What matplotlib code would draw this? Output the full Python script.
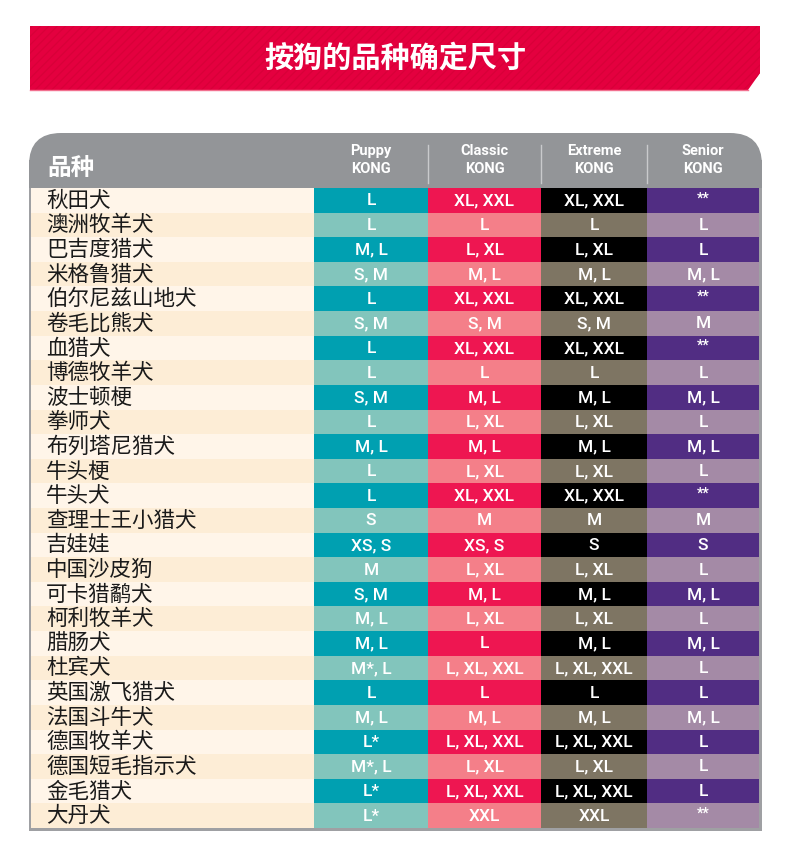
#!/usr/bin/env python3
"""
按狗的品种确定尺寸 - KONG 尺寸表
"""

import matplotlib
matplotlib.use('Agg')
import matplotlib.pyplot as plt
from matplotlib.patches import Polygon, Rectangle, FancyBboxPatch

plt.rcParams['font.family'] = ['Noto Sans CJK SC', 'DejaVu Sans']
plt.rcParams['hatch.linewidth'] = 0.9

# Datos de la tabla
title = '按狗的品种确定尺寸'
name_header = '品种'
col_headers = ['Puppy\nKONG', 'Classic\nKONG', 'Extreme\nKONG', 'Senior\nKONG']

breeds = ['秋田犬', '澳洲牧羊犬', '巴吉度猎犬', '米格鲁猎犬', '伯尔尼兹山地犬',
          '卷毛比熊犬', '血猎犬', '博德牧羊犬', '波士顿梗', '拳师犬',
          '布列塔尼猎犬', '牛头梗', '牛头犬', '查理士王小猎犬', '吉娃娃',
          '中国沙皮狗', '可卡猎鹬犬', '柯利牧羊犬', '腊肠犬', '杜宾犬',
          '英国激飞猎犬', '法国斗牛犬', '德国牧羊犬', '德国短毛指示犬', '金毛猎犬',
          '大丹犬']

puppy = ['L', 'L', 'M, L', 'S, M', 'L', 'S, M', 'L', 'L', 'S, M', 'L',
         'M, L', 'L', 'L', 'S', 'XS, S', 'M', 'S, M', 'M, L', 'M, L', 'M*, L',
         'L', 'M, L', 'L*', 'M*, L', 'L*', 'L*']
classic = ['XL, XXL', 'L', 'L, XL', 'M, L', 'XL, XXL', 'S, M', 'XL, XXL', 'L',
           'M, L', 'L, XL', 'M, L', 'L, XL', 'XL, XXL', 'M', 'XS, S', 'L, XL',
           'M, L', 'L, XL', 'L', 'L, XL, XXL', 'L', 'M, L', 'L, XL, XXL',
           'L, XL', 'L, XL, XXL', 'XXL']
extreme = ['XL, XXL', 'L', 'L, XL', 'M, L', 'XL, XXL', 'S, M', 'XL, XXL', 'L',
           'M, L', 'L, XL', 'M, L', 'L, XL', 'XL, XXL', 'M', 'S', 'L, XL',
           'M, L', 'L, XL', 'M, L', 'L, XL, XXL', 'L', 'M, L', 'L, XL, XXL',
           'L, XL', 'L, XL, XXL', 'XXL']
senior = ['**', 'L', 'L', 'M, L', '**', 'M', '**', 'L', 'M, L', 'L',
          'M, L', 'L', '**', 'M', 'S', 'L', 'M, L', 'L', 'M, L', 'L',
          'L', 'M, L', 'L', 'L', 'L', '**']

# Colores (oscuro, claro) por columna
col_colors = [('#00A0B1', '#82C5BC'),
              ('#EE1651', '#F47F89'),
              ('#000000', '#7E7563'),
              ('#512D83', '#A48AA6')]
name_colors = ('#FFF5E9', '#FDEDD6')
banner_red = '#E4003F'
frame_gray = '#939598'

# Geometría en píxeles
W, H = 790, 865
x_left, x_right = 29, 762
name_x0, name_x1 = 31, 314
col_edges = [314, 428, 541, 647, 759]
row_top, row_bottom = 188, 828


def main():
    fig = plt.figure(figsize=(W / 100, H / 100), dpi=100)
    ax = fig.add_axes([0, 0, 1, 1])
    ax.set_xlim(0, W)
    ax.set_ylim(H, 0)
    ax.axis('off')

    # Banner rojo con bisel
    banner = Polygon([(30, 26), (760, 26), (760, 73), (748, 90), (30, 90)],
                     closed=True, facecolor=banner_red, edgecolor='#D80039',
                     hatch='////', linewidth=0)
    ax.add_patch(banner)
    ax.plot([30, 748], [90, 90], color='#F2708F', linewidth=1)
    ax.text(395, 58, title, color='white', fontsize=21, fontweight='bold',
            ha='center', va='center')

    # Marco gris con esquinas redondeadas
    header = FancyBboxPatch((x_left, 133), x_right - x_left, 80,
                            boxstyle='round,pad=0,rounding_size=32',
                            facecolor=frame_gray, edgecolor='none')
    ax.add_patch(header)
    ax.add_patch(Rectangle((x_left, 180), x_right - x_left, row_bottom + 3 - 180,
                           facecolor='#9FA0A3', edgecolor='none'))
    ax.add_patch(Rectangle((x_left, 160), x_right - x_left, 28,
                           facecolor=frame_gray, edgecolor='none'))

    ax.text(47, 168, name_header, color='white', fontsize=17, fontweight='bold',
            ha='left', va='center')

    for j, label in enumerate(col_headers):
        cx = (col_edges[j] + col_edges[j + 1]) / 2
        top, bottom = label.split('\n')
        ax.text(cx, 151, top, color='white', fontsize=10.5, fontweight='bold',
                family='Roboto', ha='center', va='center')
        ax.text(cx, 169, bottom, color='white', fontsize=10.5, fontweight='bold',
                family='Roboto', ha='center', va='center')
    for xe in col_edges[1:-1]:
        ax.plot([xe, xe], [145, 183], color='#C9CACC', linewidth=1)

    # Filas
    n = len(breeds)
    rh = (row_bottom - row_top) / n
    columns = [puppy, classic, extreme, senior]
    for i, breed in enumerate(breeds):
        y0 = row_top + i * rh
        shade = i % 2
        ax.add_patch(Rectangle((name_x0, y0), name_x1 - name_x0, rh + 0.3,
                               facecolor=name_colors[shade], edgecolor='none'))
        ax.text(46, y0 + rh / 2 + 0.5, breed, color='#1A1A1A', fontsize=15.5,
                ha='left', va='center')
        for j, vals in enumerate(columns):
            x0, x1 = col_edges[j], col_edges[j + 1]
            ax.add_patch(Rectangle((x0, y0), x1 - x0, rh + 0.3,
                                   facecolor=col_colors[j][shade], edgecolor='none'))
            if vals[i] == '**':
                # asteriscos pequeños y elevados
                ax.text((x0 + x1) / 2, y0 + rh / 2 - 2, vals[i], color='white',
                        fontsize=10, fontweight='bold', family='Roboto',
                        ha='center', va='center')
            else:
                ax.text((x0 + x1) / 2, y0 + rh / 2 + 0.5, vals[i], color='white',
                        fontsize=12.5, fontweight='medium', family='Roboto',
                        ha='center', va='center')

    fig.savefig('out.png', dpi=100, facecolor='white')


if __name__ == '__main__':
    main()
